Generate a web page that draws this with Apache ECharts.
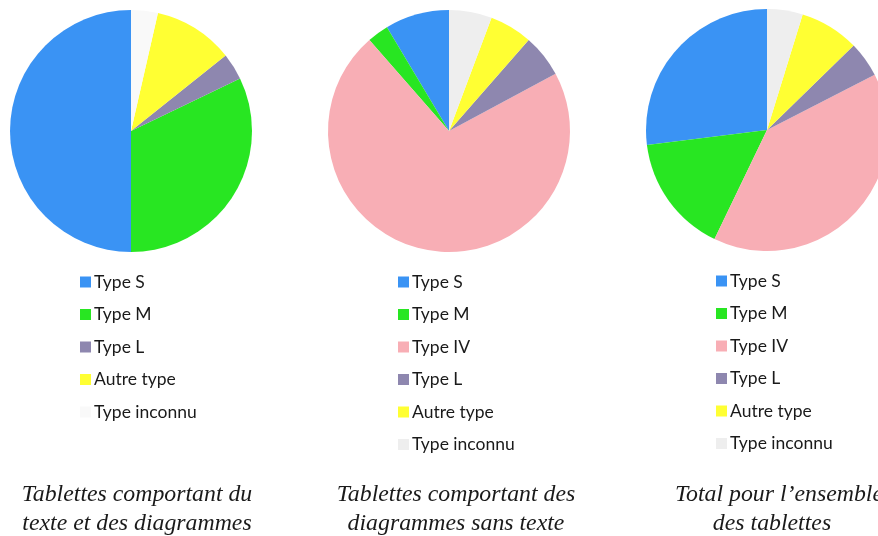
<!DOCTYPE html>
<html>
<head>
<meta charset="utf-8">
<style>
  html, body { margin: 0; padding: 0; background: #ffffff; }
  #chart { width: 878px; height: 536px; }
</style>
<script src="https://cdn.jsdelivr.net/npm/echarts@6/dist/echarts.min.js"></script>
</head>
<body>
<div id="chart"></div>
<script>
// Tablet counts by type
const typesMixed = ['Type S', 'Type M', 'Type L', 'Autre type', 'Type inconnu'];
const countsMixed = [14, 9, 1, 3, 1];

const typesAll = ['Type S', 'Type M', 'Type IV', 'Type L', 'Autre type', 'Type inconnu'];
const countsDiagrams = [3, 1, 25, 2, 2, 2];
const countsTotal = [17, 10, 25, 3, 5, 3];

const captionMixed = 'Tablettes comportant du\ntexte et des diagrammes';
const captionDiagrams = 'Tablettes comportant des\ndiagrammes sans texte';
const captionTotalLine1 = 'Total pour l\u2019ensemble';
const captionTotalLine2 = 'des tablettes';

const typeColors = {
  'Type S': '#3a93f4',
  'Type M': '#28e622',
  'Type IV': '#f8aeb5',
  'Type L': '#8e87af',
  'Autre type': '#ffff33',
  'Type inconnu': '#eeeeee'
};
const unknownColorMixed = '#f9f9f9';

function sliceData(names, values, overrides) {
  return names.map((n, i) => ({
    name: n,
    value: values[i],
    itemStyle: { color: (overrides && overrides[n]) || typeColors[n] }
  }));
}

function legendData(names, overrides) {
  return names.map(n => ({
    name: n,
    itemStyle: { color: (overrides && overrides[n]) || typeColors[n] }
  }));
}

const mixedOverrides = { 'Type inconnu': unknownColorMixed };

const pieBase = {
  type: 'pie',
  radius: 121,
  startAngle: 90,
  clockwise: false,
  label: { show: false },
  labelLine: { show: false },
  emphasis: { disabled: true },
  itemStyle: { borderWidth: 0 },
  animation: false
};

const legendBase = {
  orient: 'vertical',
  icon: 'rect',
  itemWidth: 11,
  itemHeight: 11,
  itemGap: 14.5,
  selectedMode: false,
  padding: 0,
  textStyle: {
    fontFamily: 'Lato',
    fontSize: 17.5,
    lineHeight: 16,
    color: '#1a1a1a',
    padding: [0, 0, 0, -2]
  }
};

const captionBase = {
  textAlign: 'center',
  top: 475,
  textStyle: {
    fontFamily: 'Liberation Serif',
    fontStyle: 'italic',
    fontWeight: 'normal',
    fontSize: 23.8,
    lineHeight: 29,
    color: '#1a1a1a'
  }
};

const chart = echarts.init(document.getElementById('chart'), null, { renderer: 'canvas' });

chart.setOption({
  backgroundColor: '#ffffff',
  animation: false,
  title: [
    Object.assign({}, captionBase, { text: captionMixed, left: 132 }),
    Object.assign({}, captionBase, { text: captionDiagrams, left: 451 }),
    Object.assign({}, captionBase, { text: captionTotalLine1, left: 774 }),
    Object.assign({}, captionBase, { text: captionTotalLine2, left: 767, top: 504 })
  ],
  legend: [
    Object.assign({}, legendBase, { left: 80, top: 273, data: legendData(typesMixed, mixedOverrides) }),
    Object.assign({}, legendBase, { left: 398, top: 273, data: legendData(typesAll) }),
    Object.assign({}, legendBase, { left: 716, top: 272, data: legendData(typesAll) })
  ],
  series: [
    Object.assign({}, pieBase, { center: [131, 131], data: sliceData(typesMixed, countsMixed, mixedOverrides) }),
    Object.assign({}, pieBase, { center: [449, 131], data: sliceData(typesAll, countsDiagrams) }),
    Object.assign({}, pieBase, { center: [767, 130], data: sliceData(typesAll, countsTotal) })
  ]
});
</script>
</body>
</html>
